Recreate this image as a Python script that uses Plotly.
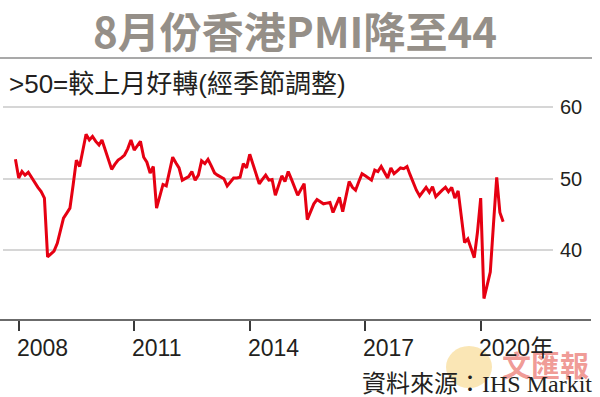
import pandas as pd
import plotly.graph_objects as go

# Hong Kong PMI (seasonally adjusted), monthly Dec 2007 - Aug 2020
start_month = "2007-12-01"
pmi = [
    52.7,                                                        # 2007-12
    50.1, 51.0, 50.5, 50.9, 50.2, 49.4, 48.8, 48.2, 47.3, 39.1, 39.5, 39.9,  # 2008
    41.0, 42.8, 44.5, 45.2, 45.9, 49.2, 52.6, 51.7, 54.0, 56.2, 55.4, 55.9,  # 2009
    55.2, 54.7, 55.4, 54.0, 52.6, 51.3, 52.0, 52.6, 52.9, 53.3, 54.2, 55.4,  # 2010
    54.0, 54.6, 55.2, 53.0, 52.3, 50.8, 51.7, 45.9, 47.5, 49.2, 49.0, 51.0,  # 2011
    53.0, 52.2, 51.5, 49.8, 50.1, 50.3, 51.0, 49.8, 50.5, 52.5, 52.1, 52.7,  # 2012
    51.8, 50.8, 50.5, 50.2, 50.0, 49.0, 49.6, 50.1, 50.1, 50.2, 52.1, 51.5,  # 2013
    53.4, 52.0, 50.5, 49.3, 49.9, 50.5, 49.8, 49.9, 47.7, 49.0, 50.4, 49.6,  # 2014
    51.0, 49.9, 48.8, 47.7, 48.5, 49.3, 44.3, 45.5, 46.5, 47.1, 46.8, 46.5,  # 2015
    46.6, 46.7, 45.3, 46.3, 47.4, 45.4, 47.5, 49.6, 48.8, 48.4, 49.6, 50.7,  # 2016
    50.4, 50.1, 49.8, 51.2, 51.0, 51.7, 50.9, 50.1, 51.5, 50.7, 51.1, 51.5,  # 2017
    51.4, 51.7, 50.6, 49.5, 48.4, 47.6, 48.2, 48.8, 48.1, 48.9, 47.5, 48.0,  # 2018
    48.4, 48.8, 48.2, 48.8, 47.3, 48.3, 44.5, 41.1, 41.6, 40.3, 39.0, 42.5,  # 2019
    47.3, 33.3, 35.0, 37.0, 43.6, 50.2, 45.3, 44.0,                          # 2020
]
dates = pd.date_range(start_month, periods=len(pmi), freq="MS")

tick_dates = ["2008-01-01", "2011-01-01", "2014-01-01", "2017-01-01", "2020-01-01"]
tick_text = ["2008", "2011", "2014", "2017", "2020年"]
y_ticks = [40, 50, 60]

title_text = "8月份香港PMI降至44"
subtitle_text = ">50=較上月好轉(經季節調整)"
source_text = "資料來源：IHS Markit"
watermark_text = "文匯報"

W, H = 600, 397
L, R, T, B = 3, 47, 50, 77
PW, PH = W - L - R, H - T - B


def px(xp):
    return (xp - L) / PW


def py(yp):
    return (H - B - yp) / PH


SANS = "Liberation Sans, Noto Sans CJK TC, sans-serif"
CJK = "Noto Sans CJK TC, sans-serif"

fig = go.Figure()
fig.add_trace(go.Scatter(
    x=dates, y=pmi, mode="lines",
    line=dict(color="#e60012", width=3), hoverinfo="skip",
))

fig.update_layout(
    width=W, height=H, autosize=False,
    margin=dict(l=L, r=R, t=T, b=B, pad=0),
    paper_bgcolor="white", plot_bgcolor="white",
    showlegend=False,
)
fig.update_xaxes(
    type="date", range=["2007-08-05", "2021-11-17"],
    showgrid=False, zeroline=False, showline=False,
    tickvals=tick_dates, ticks="outside", ticklen=10, tickwidth=1.5,
    tickcolor="#3a3a3a", showticklabels=False,
)
fig.update_yaxes(
    range=[30.31, 67.94], side="right", tickvals=y_ticks,
    showgrid=True, gridcolor="#d6d6d6", gridwidth=1.5,
    zeroline=False, showline=False, ticks="",
    ticklabelstandoff=6,
    tickfont=dict(family=SANS, size=20, color="#231f20"),
)

shapes = [
    # x axis baseline (wider than plot area)
    dict(type="line", xref="paper", yref="paper", x0=px(0), x1=px(591), y0=0, y1=0,
         line=dict(color="#3a3a3a", width=1.5)),
    # rule under the title
    dict(type="line", xref="paper", yref="paper", x0=px(0), x1=px(592), y0=py(58), y1=py(58),
         line=dict(color="#8c8c8c", width=1.5), layer="above"),
    # watermark globe
    dict(type="circle", xref="paper", yref="paper", x0=px(446), x1=px(492), y0=py(388), y1=py(346),
         fillcolor="rgba(245,200,90,0.45)", line=dict(width=0), layer="below"),
]
fig.update_layout(shapes=shapes)

ann = [
    dict(text=title_text, x=px(295), y=py(29), xref="paper", yref="paper",
         xanchor="center", yanchor="middle", showarrow=False,
         font=dict(family=CJK, size=42, color="#958f88", weight="bold")),
    dict(text=subtitle_text, x=px(7), y=py(84), xref="paper", yref="paper",
         xanchor="left", yanchor="middle", showarrow=False,
         font=dict(family=SANS, size=26, color="#231f20")),
    dict(text=watermark_text, x=px(545), y=py(364), xref="paper", yref="paper",
         xanchor="center", yanchor="middle", showarrow=False,
         font=dict(family="Noto Sans CJK TC", size=29, color="rgba(228,70,60,0.55)", weight="bold")),
    dict(text=source_text, x=px(594), y=py(384), xref="paper", yref="paper",
         xanchor="right", yanchor="middle", showarrow=False,
         font=dict(family="Liberation Serif, Noto Sans CJK TC, serif", size=24, color="#231f20")),
]
for d, t in zip(tick_dates, tick_text):
    ann.append(dict(text=t, x=d, y=0, xref="x", yref="paper",
                    xanchor="left", yanchor="top", xshift=-4, yshift=-13,
                    showarrow=False,
                    font=dict(family=SANS, size=23, color="#231f20")))
fig.update_layout(annotations=ann)

fig.write_html("out.html", config={"displayModeBar": False},
               post_script="document.body.style.margin='0';")
